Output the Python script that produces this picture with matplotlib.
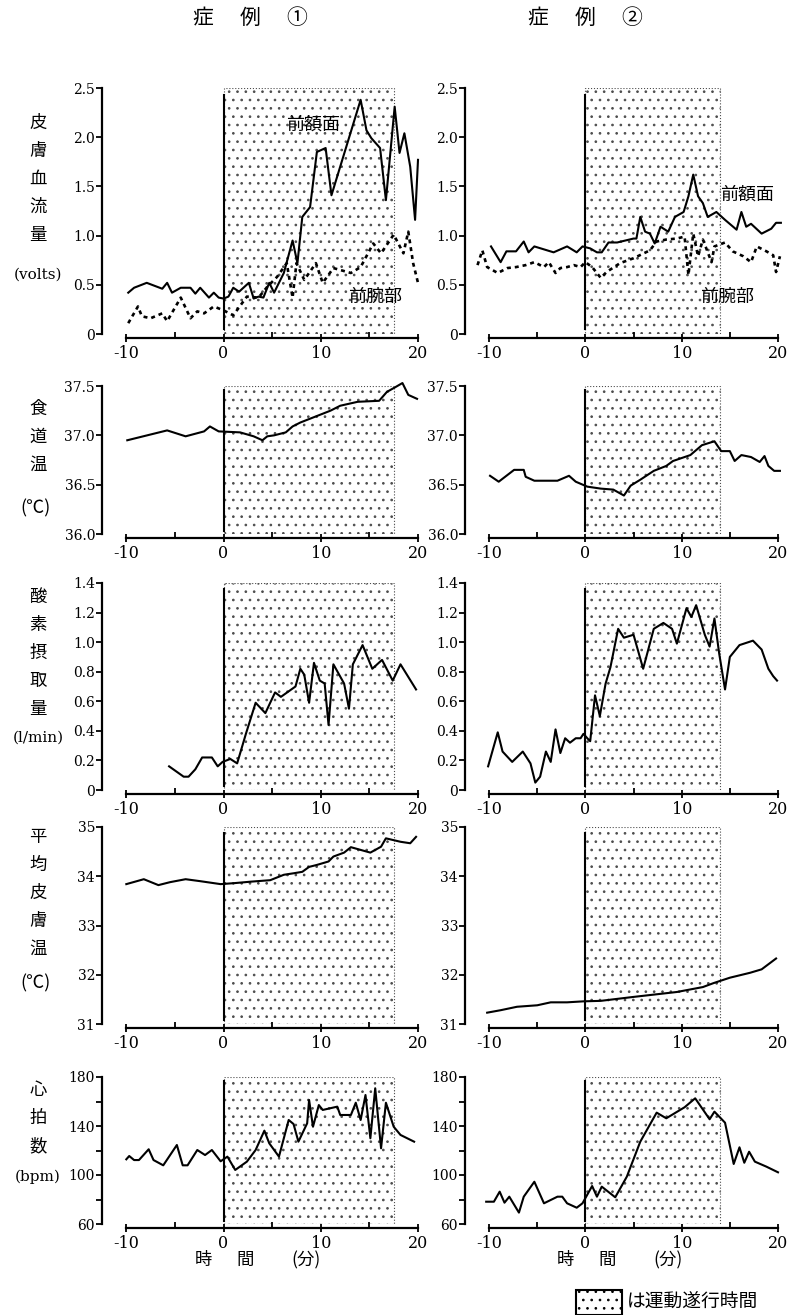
import numpy as np
import matplotlib
matplotlib.use("Agg")
import matplotlib.pyplot as plt
from matplotlib.patches import Rectangle

plt.rcParams['font.family'] = ['DejaVu Serif', 'Noto Sans CJK JP']
plt.rcParams['hatch.linewidth'] = 0.7
CJK = ['Noto Sans CJK JP', 'DejaVu Sans']

# ---- case 1 ----
c1_flow_fore_t = [-9.8, -9.2, -7.9, -6.3, -5.8, -5.3, -4.4, -3.4, -2.9, -2.4, -1.5, -1.0, -0.5, 0.0, 0.5, 1.0,
                  1.6, 2.6, 3.1, 3.6, 4.1, 4.7, 5.2, 6.2, 7.1, 7.6, 8.1, 8.9, 9.6, 10.5, 11.1, 14.1, 14.7, 15.2,
                  16.1, 16.7, 17.6, 18.1, 18.6, 19.2, 19.7, 20.0]
c1_flow_fore_v = [0.42, 0.47, 0.52, 0.46, 0.52, 0.42, 0.47, 0.47, 0.41, 0.47, 0.37, 0.42, 0.37, 0.36, 0.38, 0.47,
                  0.43, 0.52, 0.36, 0.38, 0.37, 0.52, 0.42, 0.62, 0.95, 0.72, 1.19, 1.29, 1.85, 1.89, 1.41, 2.38,
                  2.07, 1.99, 1.89, 1.36, 2.31, 1.84, 2.04, 1.70, 1.16, 1.77]
c1_flow_arm_t = [-9.8, -8.8, -8.4, -7.5, -6.3, -5.8, -4.4, -3.4, -2.7, -2.0, -1.0, 0.0, 1.0, 2.4, 3.6, 4.5, 5.5,
                 6.5, 7.1, 7.5, 8.3, 9.5, 10.2, 11.3, 13.1, 14.1, 15.4, 16.2, 17.5, 18.5, 19.0, 19.5, 20.0]
c1_flow_arm_v = [0.11, 0.28, 0.18, 0.16, 0.21, 0.13, 0.37, 0.16, 0.23, 0.21, 0.28, 0.24, 0.19, 0.38, 0.37, 0.48,
                 0.58, 0.72, 0.37, 0.72, 0.55, 0.72, 0.52, 0.67, 0.62, 0.68, 0.92, 0.82, 1.01, 0.82, 1.04, 0.72, 0.52]
c1_eso_t = [-9.9, -5.8, -3.9, -2.0, -1.4, -0.5, 1.7, 3.1, 4.0, 4.5, 5.2, 6.4, 7.1, 7.9, 11.0, 12.0, 13.8, 16.0,
            16.8, 17.7, 18.4, 19.0, 19.9]
c1_eso_v = [36.95, 37.05, 36.99, 37.04, 37.09, 37.04, 37.03, 36.99, 36.95, 36.99, 37.00, 37.03, 37.09, 37.13,
            37.25, 37.30, 37.34, 37.35, 37.44, 37.49, 37.53, 37.41, 37.37]
c1_vo2_t = [-5.6, -4.1, -3.6, -2.9, -2.2, -1.2, -0.6, -0.1, 0.7, 1.4, 2.3, 3.3, 4.3, 5.3, 5.9, 7.4, 7.9, 8.3, 8.8,
            9.3, 9.9, 10.4, 10.8, 11.3, 12.4, 12.9, 13.3, 14.3, 15.3, 16.3, 17.4, 18.2, 19.8]
c1_vo2_v = [0.16, 0.09, 0.09, 0.14, 0.22, 0.22, 0.16, 0.19, 0.21, 0.18, 0.38, 0.59, 0.52, 0.66, 0.63, 0.70, 0.82,
            0.78, 0.59, 0.86, 0.74, 0.72, 0.44, 0.85, 0.72, 0.55, 0.85, 0.98, 0.82, 0.88, 0.74, 0.85, 0.68]
c1_skin_t = [-10.0, -8.2, -6.7, -5.5, -3.9, -2.4, -0.3, 1.1, 2.8, 4.8, 6.2, 7.2, 8.1, 8.8, 9.6, 10.8, 11.3, 12.4,
             13.1, 15.1, 16.2, 16.7, 18.2, 19.2, 19.8]
c1_skin_v = [33.84, 33.94, 33.82, 33.88, 33.94, 33.90, 33.84, 33.86, 33.89, 33.92, 34.03, 34.06, 34.09, 34.19,
             34.23, 34.30, 34.40, 34.48, 34.59, 34.48, 34.60, 34.77, 34.70, 34.67, 34.80]
c1_hr_t = [-10.0, -9.7, -9.2, -8.7, -7.7, -7.2, -6.2, -4.8, -4.2, -3.7, -2.7, -1.9, -1.2, -0.3, 0.4, 1.2, 2.4,
           3.3, 4.2, 4.7, 5.7, 6.7, 7.2, 7.7, 8.6, 8.8, 9.2, 9.8, 10.2, 11.7, 12.0, 13.1, 13.6, 14.1, 14.6, 15.1,
           15.6, 16.2, 16.7, 17.5, 18.2, 19.6]
c1_hr_v = [112.8, 115.5, 112.2, 112.2, 121.0, 112.2, 107.9, 124.5, 107.9, 107.9, 120.4, 116.3, 120.4, 111.2,
           115.0, 104.1, 110.9, 120.4, 136.2, 125.9, 115.0, 144.9, 141.6, 127.2, 142.2, 161.2, 139.4, 157.1,
           153.1, 155.8, 149.0, 149.0, 159.0, 144.9, 165.3, 130.0, 170.8, 121.8, 159.0, 139.4, 132.7, 127.2]

# ---- case 2 ----
c2_flow_fore_t = [-9.8, -8.8, -8.2, -7.2, -6.4, -5.9, -5.3, -4.3, -3.3, -1.9, -0.9, -0.3, 0.5, 1.2, 1.7, 2.4,
                  3.3, 5.0, 5.3, 5.7, 6.2, 6.7, 7.2, 7.8, 8.6, 9.3, 10.2, 10.7, 11.2, 11.7, 12.2, 12.7, 13.6,
                  14.5, 15.7, 16.2, 16.7, 17.2, 18.3, 19.3, 19.8, 20.3]
c2_flow_fore_v = [0.89, 0.73, 0.84, 0.84, 0.94, 0.83, 0.89, 0.86, 0.83, 0.89, 0.83, 0.89, 0.87, 0.83, 0.83, 0.93,
                  0.93, 0.97, 0.97, 1.19, 1.04, 1.02, 0.92, 1.09, 1.04, 1.19, 1.24, 1.40, 1.62, 1.40, 1.33, 1.19,
                  1.24, 1.16, 1.06, 1.24, 1.09, 1.12, 1.02, 1.07, 1.13, 1.13]
c2_flow_arm_t = [-11.2, -10.7, -10.2, -9.1, -8.1, -7.2, -6.2, -5.3, -4.3, -3.8, -3.1, -2.6, -1.9, -1.2, -0.5, 0.0,
                 0.7, 1.6, 2.2, 3.6, 5.0, 6.7, 7.4, 8.4, 9.5, 10.3, 10.7, 11.2, 11.7, 12.2, 13.1, 13.4, 14.5, 15.3,
                 16.4, 17.2, 17.8, 18.8, 19.5, 19.8, 20.2]
c2_flow_arm_v = [0.70, 0.85, 0.68, 0.62, 0.67, 0.68, 0.70, 0.73, 0.68, 0.73, 0.62, 0.67, 0.68, 0.70, 0.68, 0.73,
                 0.68, 0.57, 0.63, 0.72, 0.77, 0.85, 0.94, 0.96, 0.97, 0.99, 0.60, 1.02, 0.79, 0.96, 0.73, 0.89,
                 0.93, 0.84, 0.79, 0.73, 0.89, 0.84, 0.80, 0.63, 0.79]
c2_eso_t = [-9.9, -9.0, -7.4, -6.4, -6.2, -5.3, -2.9, -1.7, -1.0, 0.2, 1.6, 2.9, 4.0, 4.7, 5.7, 7.1, 8.4, 9.1,
            10.9, 12.1, 13.4, 14.1, 15.0, 15.5, 16.2, 17.2, 18.1, 18.6, 19.0, 19.6, 20.2]
c2_eso_v = [36.59, 36.53, 36.65, 36.65, 36.58, 36.54, 36.54, 36.59, 36.53, 36.48, 36.46, 36.45, 36.39, 36.49,
            36.55, 36.64, 36.69, 36.74, 36.80, 36.90, 36.94, 36.84, 36.84, 36.74, 36.80, 36.78, 36.73, 36.79,
            36.69, 36.64, 36.64]
c2_vo2_t = [-10.1, -9.1, -8.6, -7.6, -6.5, -5.7, -5.2, -4.7, -4.1, -3.6, -3.1, -2.6, -2.1, -1.6, -1.0, -0.5, -0.2,
            0.2, 0.5, 1.0, 1.5, 2.1, 2.6, 3.4, 4.0, 5.0, 6.0, 7.1, 8.1, 9.0, 9.5, 10.5, 11.0, 11.5, 12.4, 12.9,
            13.4, 13.9, 14.5, 15.0, 16.0, 17.4, 18.3, 19.0, 19.5, 19.9]
c2_vo2_v = [0.16, 0.39, 0.26, 0.19, 0.26, 0.18, 0.05, 0.09, 0.26, 0.19, 0.41, 0.25, 0.35, 0.32, 0.35, 0.35, 0.38,
            0.35, 0.33, 0.64, 0.50, 0.72, 0.83, 1.09, 1.03, 1.05, 0.82, 1.09, 1.13, 1.09, 0.99, 1.23, 1.17, 1.25,
            1.05, 0.97, 1.16, 0.92, 0.68, 0.90, 0.98, 1.01, 0.95, 0.82, 0.77, 0.74]
c2_skin_t = [-10.2, -8.8, -7.1, -5.0, -3.6, -1.9, -0.2, 1.6, 5.0, 9.5, 12.2, 13.3, 15.0, 17.1, 18.3, 19.8]
c2_skin_v = [31.23, 31.28, 31.35, 31.38, 31.44, 31.44, 31.46, 31.47, 31.55, 31.65, 31.75, 31.83, 31.94, 32.04,
             32.11, 32.33]
c2_hr_t = [-10.3, -9.5, -8.9, -8.4, -7.9, -6.9, -6.4, -5.3, -4.3, -2.9, -2.4, -1.9, -0.9, -0.3, 0.7, 1.2, 1.7,
           3.1, 4.3, 5.7, 7.4, 8.4, 10.3, 11.4, 12.9, 13.4, 14.5, 15.4, 16.0, 16.5, 17.0, 17.6, 18.8, 20.0]
c2_hr_v = [78.2, 78.2, 86.4, 77.4, 82.3, 69.3, 82.3, 94.5, 76.9, 82.3, 82.3, 76.9, 73.3, 76.9, 91.0, 82.3, 90.5,
           81.8, 98.6, 127.2, 150.9, 146.3, 155.3, 162.6, 145.5, 151.7, 142.7, 109.0, 122.6, 110.0, 119.0, 110.9,
           106.8, 102.2]

exercise_end = [17.5, 14.0]

ylims = [(0, 2.5), (36.0, 37.5), (0, 1.4), (31, 35), (60, 180)]
yticks = [[0, 0.5, 1.0, 1.5, 2.0, 2.5], [36.0, 36.5, 37.0, 37.5], [0, 0.2, 0.4, 0.6, 0.8, 1.0, 1.2, 1.4],
          [31, 32, 33, 34, 35], [60, 100, 140, 180]]
ytick_labels = [['0', '0.5', '1.0', '1.5', '2.0', '2.5'], ['36.0', '36.5', '37.0', '37.5'],
                ['0', '0.2', '0.4', '0.6', '0.8', '1.0', '1.2', '1.4'], ['31', '32', '33', '34', '35'],
                ['60', '100', '140', '180']]
yminor = [[], [], [], [], [80, 120, 160]]
row_names = [['皮', '膚', '血', '流', '量'], ['食', '道', '温'], ['酸', '素', '摂', '取', '量'],
             ['平', '均', '皮', '膚', '温'], ['心', '拍', '数']]
row_units = ['(volts)', '(℃)', '(l/min)', '(℃)', '(bpm)']

series = [
    [(c1_flow_fore_t, c1_flow_fore_v, '-'), (c1_flow_arm_t, c1_flow_arm_v, ':')],
    [(c1_eso_t, c1_eso_v, '-')],
    [(c1_vo2_t, c1_vo2_v, '-')],
    [(c1_skin_t, c1_skin_v, '-')],
    [(c1_hr_t, c1_hr_v, '-')],
], [
    [(c2_flow_fore_t, c2_flow_fore_v, '-'), (c2_flow_arm_t, c2_flow_arm_v, ':')],
    [(c2_eso_t, c2_eso_v, '-')],
    [(c2_vo2_t, c2_vo2_v, '-')],
    [(c2_skin_t, c2_skin_v, '-')],
    [(c2_hr_t, c2_hr_v, '-')],
]

W, H = 792, 1315
fig = plt.figure(figsize=(W / 100, H / 100), dpi=100)

rows_px = [(88, 334), (386, 534), (583, 790), (827, 1024), (1077, 1224)]
cols_px = [(102, 418), (465, 778)]
first_char_y = [123, 409, 597, 837, 1090]
unit_y = [275, 508, 738, 983, 1177]

for c, (x0, x1) in enumerate(cols_px):
    for r, (yt, yb) in enumerate(rows_px):
        ax = fig.add_axes([x0 / W, 1 - yb / H, (x1 - x0) / W, (yb - yt) / H])
        ax.set_xlim(-12.5, 20)
        ax.set_ylim(*ylims[r])
        for s in ['top', 'right']:
            ax.spines[s].set_visible(False)
        ax.spines['left'].set_linewidth(1.6)
        ax.spines['bottom'].set_linewidth(1.6)
        ax.spines['bottom'].set_position(('outward', 3))
        ax.spines['bottom'].set_bounds(-10, 20)
        ax.set_xticks([-10, 0, 10, 20])
        ax.set_xticklabels(['-10', '0', '10', '20'])
        ax.set_xticks([-5, 5, 15], minor=True)
        ax.tick_params(axis='x', which='major', direction='inout', length=6, width=1.3, labelsize=11.5, pad=2)
        ax.tick_params(axis='x', which='minor', direction='in', length=4, width=1.3)
        ax.set_yticks(yticks[r])
        ax.set_yticklabels(ytick_labels[r])
        ax.set_yticks(yminor[r], minor=True)
        ax.tick_params(axis='y', which='both', direction='out', length=4, width=1.3, labelsize=10, pad=1)

        ax.axvspan(0, exercise_end[c], facecolor='white', edgecolor='0.3', hatch='..',
                   linestyle=':', linewidth=0.8, zorder=0)
        ax.axvline(0, ymin=0.02, ymax=0.97, color='black', lw=1.5)

        for t, v, ls in series[c][r]:
            if ls == ':':
                ax.plot(t, v, color='black', lw=1.9, linestyle=(0, (1.5, 1.5)), clip_on=False)
            else:
                ax.plot(t, v, color='black', lw=1.5, clip_on=False)

        if r == 0:
            if c == 0:
                ax.text(9.2, 2.13, '前額面', family=CJK, fontsize=13, ha='center', va='center')
                ax.text(15.6, 0.38, '前腕部', family=CJK, fontsize=13, ha='center', va='center')
            else:
                ax.text(16.75, 1.42, '前額面', family=CJK, fontsize=13, ha='center', va='center')
                ax.text(14.7, 0.38, '前腕部', family=CJK, fontsize=13, ha='center', va='center')

        if c == 0:
            for i, ch in enumerate(row_names[r]):
                fig.text(38 / W, 1 - (first_char_y[r] + i * 28) / H, ch, family=CJK, fontsize=12.5,
                         ha='center', va='center')
            if '℃' in row_units[r]:
                fig.text(36 / W, 1 - unit_y[r] / H, row_units[r], family=CJK, fontsize=13,
                         ha='center', va='center')
            else:
                fig.text(38 / W, 1 - unit_y[r] / H, row_units[r], family=['DejaVu Serif'], fontsize=11,
                         ha='center', va='center')

# column titles
for cx, mark in [(250, '①'), (585, '②')]:
    for dx, ch in zip([-47, 0, 47], ['症', '例', mark]):
        fig.text((cx + dx) / W, 1 - 18 / H, ch, family=CJK, fontsize=15, ha='center', va='center')

# x axis label
for cx in [245, 607]:
    fig.text((cx - 42) / W, 1 - 1260 / H, '時', family=CJK, fontsize=12.5, ha='center', va='center')
    fig.text(cx / W, 1 - 1260 / H, '間', family=CJK, fontsize=12.5, ha='center', va='center')
    fig.text((cx + 61) / W, 1 - 1260 / H, '(分)', family=CJK, fontsize=12.5, ha='center', va='center')

# legend for exercise period
fig.patches.append(Rectangle((576 / W, 0), 46 / W, 25 / H, transform=fig.transFigure,
                             facecolor='white', edgecolor='black', hatch='..', lw=1.5))
fig.text(627 / W, 1 - 1302 / H, 'は運動遂行時間', family=CJK, fontsize=13.5, ha='left', va='center')

fig.savefig('out.png', dpi=100)
